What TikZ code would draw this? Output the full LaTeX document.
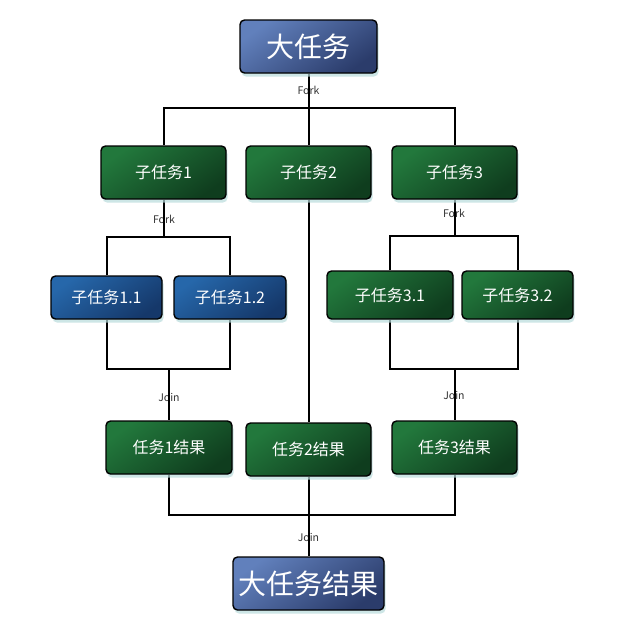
\documentclass[tikz,border=0pt]{standalone}
\usepackage{fontspec}
\setmainfont{Noto Sans CJK SC}
\usetikzlibrary{shadows,backgrounds}
\definecolor{bigtop}{HTML}{6180BC}
\definecolor{bigbot}{HTML}{2B3C6B}
\definecolor{gtop}{HTML}{22783C}
\definecolor{gbot}{HTML}{0F3D1E}
\definecolor{btop}{HTML}{2667AA}
\definecolor{bbot}{HTML}{15386A}
\definecolor{glow}{HTML}{B9DCDC}
\definecolor{lbl}{HTML}{333333}
\tikzset{
  box/.style={draw=black, line width=1.4pt, rounded corners=4.5pt, text=white,
    inner sep=0pt, font=\fontsize{16}{16}\selectfont,
    drop shadow={shadow xshift=1.5pt, shadow yshift=-3.5pt, fill=glow, opacity=0.7}},
  bigbox/.style={box, top color=bigtop, bottom color=bigbot, shading angle=35,
    font=\fontsize{28}{28}\selectfont, minimum height=53pt},
  greenbox/.style={box, top color=gtop, bottom color=gbot, shading angle=35},
  bluebox/.style={box, top color=btop, bottom color=bbot, shading angle=35},
  conn/.style={draw=black, line width=2pt},
  lab/.style={text=lbl, font=\fontsize{10.5}{11}\selectfont, inner sep=0pt},
}
\begin{document}
\begin{tikzpicture}[x=1pt,y=-1pt]
\useasboundingbox (0,0) rectangle (627,625);
% boxes
\node[bigbox, minimum width=137pt] (big) at (308.5,46.5) {大任务};
\node[greenbox, minimum width=125pt, minimum height=53pt] (s1) at (163.5,172.5) {子任务1};
\node[greenbox, minimum width=125pt, minimum height=53pt] (s2) at (308.5,172.5) {子任务2};
\node[greenbox, minimum width=125pt, minimum height=53pt] (s3) at (454.5,172.5) {子任务3};
\node[bluebox, minimum width=111pt, minimum height=43pt] (s11) at (106.5,297.5) {子任务1.1};
\node[bluebox, minimum width=112pt, minimum height=43pt] (s12) at (230,297.5) {子任务1.2};
\node[greenbox, minimum width=126pt, minimum height=48pt] (s31) at (390,295) {子任务3.1};
\node[greenbox, minimum width=111pt, minimum height=48pt] (s32) at (517.5,295) {子任务3.2};
\node[greenbox, minimum width=126pt, minimum height=53pt] (r1) at (169,447.5) {任务1结果};
\node[greenbox, minimum width=125pt, minimum height=53pt] (r2) at (308.5,449.5) {任务2结果};
\node[greenbox, minimum width=125pt, minimum height=53pt] (r3) at (454.5,447.5) {任务3结果};
\node[bigbox, minimum width=151pt] (fin) at (308.5,583.5) {大任务结果};
% junction coordinates
\coordinate (f0) at (308.5,108);
\coordinate (f1) at (163.5,237);
\coordinate (f3) at (454.5,236);
\coordinate (j1) at (169,369);
\coordinate (j3) at (454.5,369);
\coordinate (j0) at (308.5,515);
\begin{pgfonlayer}{background}
\fill[white] (0,0) rectangle (627,625);
% labels (lines pass through them)
\node[lab] (lf0) at (308.5,90) {Fork};
\node[lab] (lf1) at (164,219) {Fork};
\node[lab] (lf3) at (454,213) {Fork};
\node[lab] (lj1) at (169,397) {Join};
\node[lab] (lj3) at (454,395) {Join};
\node[lab] (lj0) at (308.5,537) {Join};
\draw[conn] (big.south) -- (s2.north);
\draw[conn] (s1.north) |- (f0) -| (s3.north);
\draw[conn] (s1.south) -- (f1);
\draw[conn] (s11.north) |- (f1) -| (s12.north);
\draw[conn] (s3.south) -- (f3);
\draw[conn] (s31.north) |- (f3) -| (s32.north);
\draw[conn] (s11.south) |- (j1) -| (s12.south);
\draw[conn] (j1) -- (r1.north);
\draw[conn] (s31.south) |- (j3) -| (s32.south);
\draw[conn] (j3) -- (r3.north);
\draw[conn] (s2.south) -- (r2.north);
\draw[conn] (r1.south) |- (j0) -| (r3.south);
\draw[conn] (r2.south) -- (fin.north);
\end{pgfonlayer}
\end{tikzpicture}
\end{document}
